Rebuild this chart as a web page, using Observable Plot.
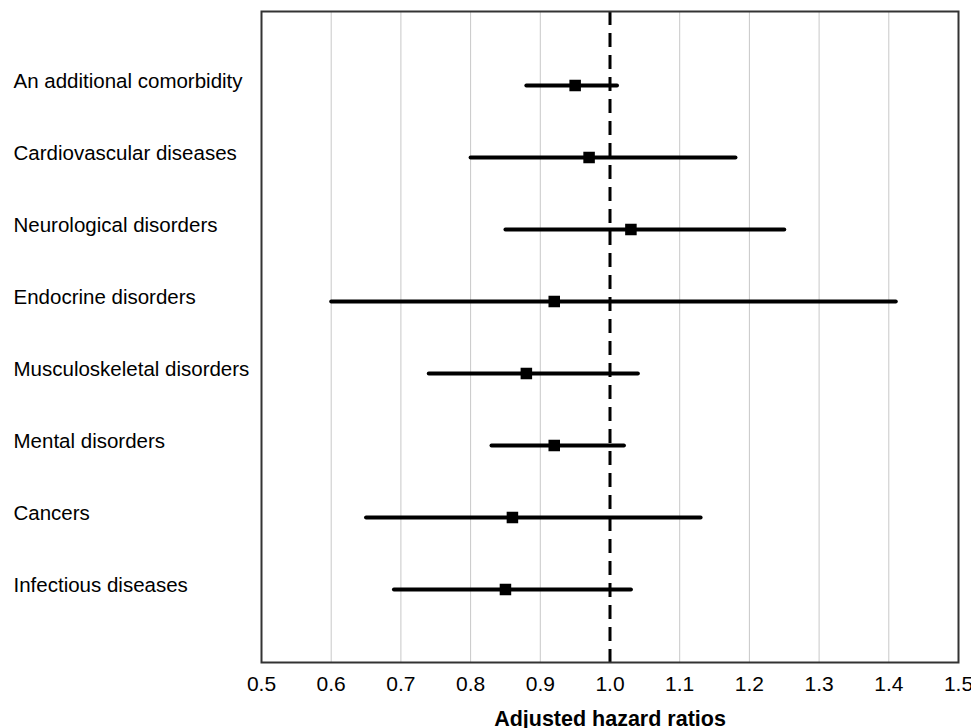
<!DOCTYPE html>
<html>
<head>
<meta charset="utf-8">
<script src="https://cdn.jsdelivr.net/npm/d3@7"></script>
<script src="https://cdn.jsdelivr.net/npm/@observablehq/plot@0.6"></script>
<style>
  html, body { margin: 0; padding: 0; background: #fff; overflow: hidden; }
  #chart svg { display: block; }
</style>
</head>
<body>
<div id="chart"></div>
<script>
const categories = [
  "An additional comorbidity",
  "Cardiovascular diseases",
  "Neurological disorders",
  "Endocrine disorders",
  "Musculoskeletal disorders",
  "Mental disorders",
  "Cancers",
  "Infectious diseases"
];
const hazardRatio = [0.95, 0.97, 1.03, 0.92, 0.88, 0.92, 0.86, 0.85];
const ciLower     = [0.88, 0.80, 0.85, 0.60, 0.74, 0.83, 0.65, 0.69];
const ciUpper     = [1.01, 1.18, 1.25, 1.41, 1.04, 1.02, 1.13, 1.03];
const xTicks = [0.5, 0.6, 0.7, 0.8, 0.9, 1.0, 1.1, 1.2, 1.3, 1.4, 1.5];
const gridTicks = [0.6, 0.7, 0.8, 0.9, 1.1, 1.2, 1.3, 1.4];
const refLine = [1.0];

const rows = categories.map((c, i) => ({
  name: c, hr: hazardRatio[i], lo: ciLower[i], hi: ciUpper[i]
}));

const font = "Arial, 'Liberation Sans', sans-serif";

const chart = Plot.plot({
  width: 971,
  height: 745,
  marginLeft: 261,
  marginRight: 13,
  marginTop: 11,
  marginBottom: 83,
  style: { fontFamily: font, fontSize: "20px", color: "#000", background: "#fff" },
  x: { domain: [0.5, 1.5] },
  y: { type: "point", domain: categories, padding: 1 },
  marks: [
    Plot.ruleX(gridTicks, { stroke: "#c8c8c8", strokeWidth: 1 }),
    Plot.ruleX(refLine, { stroke: "#000", strokeWidth: 3, strokeDasharray: "14,8" }),
    Plot.frame({ stroke: "#333", strokeWidth: 2 }),
    Plot.link(rows, {
      x1: "lo", x2: "hi", y1: "name", y2: "name",
      stroke: "#000", strokeWidth: 4, strokeLinecap: "round"
    }),
    Plot.dot(rows, {
      x: "hr", y: "name", symbol: "square", r: 6.5, fill: "#000", stroke: "none"
    }),
    Plot.axisY({
      tickSize: 0, tickPadding: 0, textAnchor: "start", dx: -248, dy: -4,
      fontSize: 20.5, label: null
    }),
    Plot.axisX({
      ticks: xTicks, tickFormat: d3.format(".1f"), tickSize: 0, tickPadding: 14,
      fontSize: 21, label: null
    }),
    Plot.text(["Adjusted hazard ratios"], {
      frameAnchor: "bottom", dy: 63, text: d => d,
      fontSize: 21.5, fontWeight: "bold", fill: "#000"
    })
  ]
});
document.getElementById("chart").appendChild(chart);
</script>
</body>
</html>
